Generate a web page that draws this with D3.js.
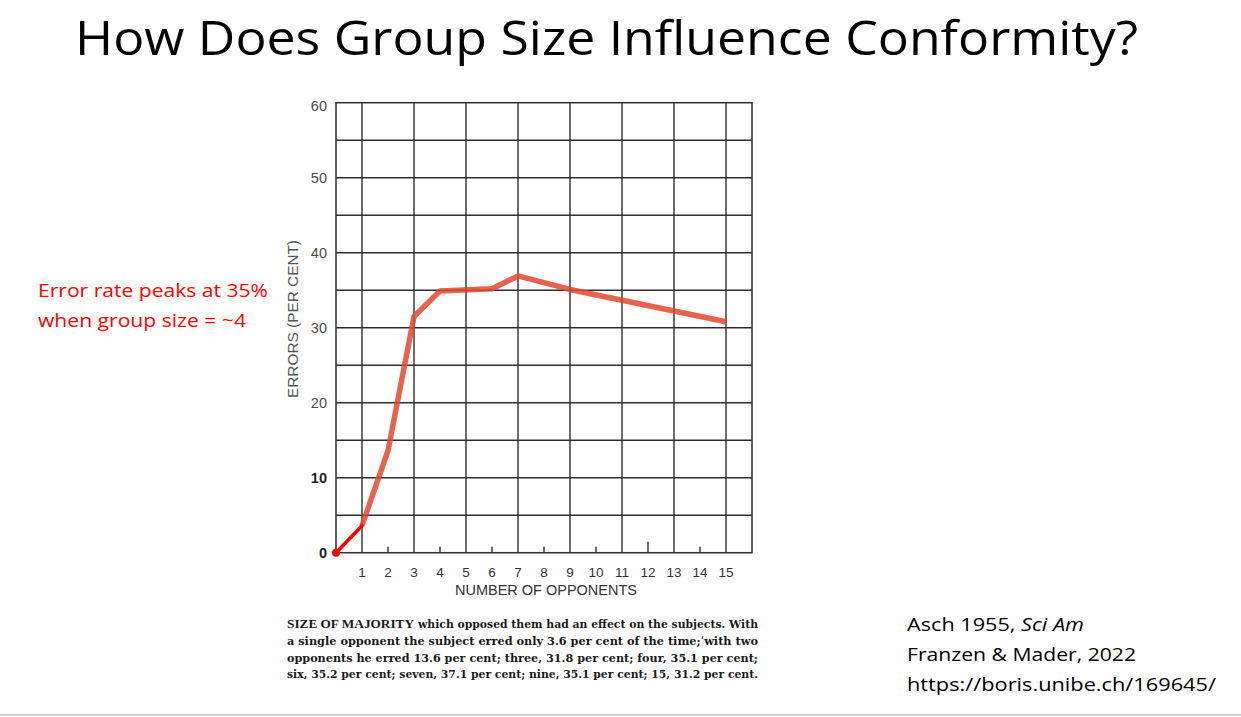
<!DOCTYPE html>
<html>
<head>
<meta charset="utf-8">
<script src="https://cdn.jsdelivr.net/npm/d3@7"></script>
<style>
  html, body { margin: 0; padding: 0; background: #fff; }
  svg { display: block; }
</style>
</head>
<body>
<div id="slide"></div>
<script>

// ---DATA---//

var opponents = [ 1, 2, 3, 4, 6, 7, 9, 15 ];
var errorRates = [ 3.6, 13.6, 31.5, 34.9, 35.2, 36.9, 35.1, 30.8 ];

// red segment added on the slide (origin to first point)
var startX = [ 0, 1 ];
var startY = [ 0, 3.6 ];

var yTickValues = [ 0, 10, 20, 30, 40, 50, 60 ];
var xTickValues = [ 1, 2, 3, 4, 5, 6, 7, 8, 9, 10, 11, 12, 13, 14, 15 ];
var verticalGrid = [ 1, 3, 5, 7, 9, 11, 13, 15 ];
var horizontalGrid = [ 5, 10, 15, 20, 25, 30, 35, 40, 45, 50, 55 ];
var bottomTicks = [ 2, 4, 6, 8, 10, 12, 14 ];

var titleText = "How Does Group Size Influence Conformity?";
var noteLines = [ "Error rate peaks at 35%", "when group size = ~4" ];
var captionLines = [
	"which opposed them had an effect on the subjects. With",
	"a single opponent the subject erred only 3.6 per cent of the time;\u02B9with two",
	"opponents he erred 13.6 per cent; three, 31.8 per cent; four, 35.1 per cent;",
	"six, 35.2 per cent; seven, 37.1 per cent; nine, 35.1 per cent; 15, 31.2 per cent."
];
var sourceLines = [ "Franzen & Mader, 2022", "https://boris.unibe.ch/169645/" ];

// ---LAYOUT---//

var width = 1241;
var height = 717;

var svg = d3.select("#slide").append("svg")
		.attr("width", width)
		.attr("height", height);

var x = d3.scaleLinear().domain([ 0, 16 ]).range([ 336, 752 ]);
var y = d3.scaleLinear().domain([ 0, 60 ]).range([ 552.7, 102.7 ]);

var gridColor = "#2e2e2e";
var labelFont = "'Liberation Sans', Arial, sans-serif";

// ---TITLE---//

svg.append("text")
	.attr("x", 75)
	.attr("y", 55)
	.attr("textLength", 1063)
	.attr("lengthAdjust", "spacingAndGlyphs")
	.attr("font-family", "'Open Sans', sans-serif")
	.attr("font-size", "48px")
	.attr("fill", "#000")
	.text(titleText);

// ---GRID---//

var chart = svg.append("g").attr("class", "chart");

chart.selectAll("line.vgrid").data(verticalGrid).enter()
	.append("line") //
	.attr("class", "vgrid") //
	.attr("x1", function(d) { return x(d); }) //
	.attr("x2", function(d) { return x(d); }) //
	.attr("y1", y(60)) //
	.attr("y2", y(0)) //
	.attr("stroke", gridColor) //
	.attr("stroke-width", 1.4);

chart.selectAll("line.hgrid").data(horizontalGrid).enter()
	.append("line") //
	.attr("class", "hgrid") //
	.attr("x1", x(0)) //
	.attr("x2", x(16)) //
	.attr("y1", function(d) { return y(d); }) //
	.attr("y2", function(d) { return y(d); }) //
	.attr("stroke", gridColor) //
	.attr("stroke-width", 1.4);

chart.append("rect")
	.attr("x", x(0))
	.attr("y", y(60))
	.attr("width", x(16) - x(0))
	.attr("height", y(0) - y(60))
	.attr("fill", "none")
	.attr("stroke", gridColor)
	.attr("stroke-width", 1.5);

// short ticks on the bottom edge
chart.selectAll("line.btick").data(bottomTicks).enter()
	.append("line") //
	.attr("class", "btick") //
	.attr("x1", function(d) { return x(d); }) //
	.attr("x2", function(d) { return x(d); }) //
	.attr("y1", y(0)) //
	.attr("y2", function(d) { return d == 12 ? y(0) - 11 : y(0) - 6; }) //
	.attr("stroke", gridColor) //
	.attr("stroke-width", 1.4);

// ---AXIS LABELS---//

chart.selectAll("text.ylabel").data(yTickValues).enter()
	.append("text") //
	.attr("class", "ylabel") //
	.attr("x", 327) //
	.attr("y", function(d) { return y(d) + (d == 60 ? 8 : 5); }) //
	.attr("text-anchor", "end") //
	.attr("font-family", labelFont) //
	.attr("font-size", "14.5px") //
	.attr("font-weight", function(d) { return d <= 10 ? "bold" : "normal"; }) //
	.attr("fill", function(d) { return d <= 10 ? "#222" : "#4a4a4a"; }) //
	.text(function(d) { return d; });

chart.selectAll("text.xlabel").data(xTickValues).enter()
	.append("text") //
	.attr("class", "xlabel") //
	.attr("x", function(d) { return x(d); }) //
	.attr("y", 577) //
	.attr("text-anchor", "middle") //
	.attr("font-family", labelFont) //
	.attr("font-size", "13.5px") //
	.attr("fill", "#333") //
	.text(function(d) { return d; });

chart.append("text")
	.attr("x", 546)
	.attr("y", 595)
	.attr("text-anchor", "middle")
	.attr("textLength", 182)
	.attr("lengthAdjust", "spacingAndGlyphs")
	.attr("font-family", labelFont)
	.attr("font-size", "14px")
	.attr("fill", "#333")
	.text("NUMBER OF OPPONENTS");

chart.append("text")
	.attr("transform", "translate(298,319) rotate(-90)")
	.attr("text-anchor", "middle")
	.attr("textLength", 158)
	.attr("lengthAdjust", "spacingAndGlyphs")
	.attr("font-family", labelFont)
	.attr("font-size", "14px")
	.attr("fill", "#555")
	.text("ERRORS (PER CENT)");

// ---DATA LINES---//

var line = d3.line()
	.x(function(d) { return x(d[0]); })
	.y(function(d) { return y(d[1]); });

chart.append("path")
	.datum(d3.zip(opponents, errorRates))
	.attr("d", line)
	.attr("fill", "none")
	.attr("stroke", "#e4482e")
	.attr("stroke-opacity", 0.85)
	.attr("stroke-width", 5.5)
	.attr("stroke-linejoin", "round");

chart.append("path")
	.datum(d3.zip(startX, startY))
	.attr("d", line)
	.attr("fill", "none")
	.attr("stroke", "#ff0000")
	.attr("stroke-width", 3.5)
	.attr("stroke-linecap", "round");

chart.append("circle")
	.attr("cx", x(startX[0]))
	.attr("cy", y(startY[0]))
	.attr("r", 4)
	.attr("fill", "#ff0000");

// ---CAPTION---//

var caption = svg.append("g").attr("class", "caption")
	.attr("font-family", "'DejaVu Serif', 'Liberation Serif', serif")
	.attr("font-size", "11px")
	.attr("font-weight", "bold")
	.attr("fill", "#1a1a1a");

caption.selectAll("text").data(captionLines).enter()
	.append("text") //
	.attr("x", function(d, i) { return i == 0 ? 418 : 287; }) //
	.attr("y", function(d, i) { return 628 + i * 16.8; }) //
	.attr("textLength", function(d, i) { return i == 0 ? 340 : 471; }) //
	.attr("lengthAdjust", "spacingAndGlyphs") //
	.text(function(d) { return d; });

caption.append("text")
	.attr("x", 287)
	.attr("y", 628)
	.attr("textLength", 127)
	.attr("lengthAdjust", "spacingAndGlyphs")
	.attr("font-family", "'Liberation Serif', serif")
	.attr("font-size", "13.5px")
	.text("SIZE OF MAJORITY");

// ---ANNOTATIONS---//

var noteSizes = [ 230, 208 ];

svg.selectAll("text.note").data(noteLines).enter()
	.append("text") //
	.attr("class", "note") //
	.attr("x", 38) //
	.attr("y", function(d, i) { return 297 + i * 30; }) //
	.attr("textLength", function(d, i) { return noteSizes[i]; }) //
	.attr("lengthAdjust", "spacingAndGlyphs") //
	.attr("font-family", "'Open Sans', sans-serif") //
	.attr("font-size", "19px") //
	.attr("fill", "#ff0000") //
	.text(function(d) { return d; });

var source = svg.append("g").attr("class", "source")
	.attr("font-family", "'Open Sans', sans-serif")
	.attr("font-size", "19px")
	.attr("fill", "#000");

var asch = source.append("text")
	.attr("x", 907)
	.attr("y", 631)
	.attr("textLength", 177)
	.attr("lengthAdjust", "spacingAndGlyphs");
asch.append("tspan").text("Asch 1955, ");
asch.append("tspan").attr("font-style", "italic").text("Sci Am");

var sourceSizes = [ 229, 309 ];

source.selectAll("text.ref").data(sourceLines).enter()
	.append("text") //
	.attr("class", "ref") //
	.attr("x", 907) //
	.attr("y", function(d, i) { return 661 + i * 30; }) //
	.attr("textLength", function(d, i) { return sourceSizes[i]; }) //
	.attr("lengthAdjust", "spacingAndGlyphs") //
	.text(function(d) { return d; });

// slide bottom border
svg.append("line")
	.attr("x1", 0)
	.attr("x2", width)
	.attr("y1", 715)
	.attr("y2", 715)
	.attr("stroke", "#c4c4cc")
	.attr("stroke-width", 1.5);

</script>
</body>
</html>
